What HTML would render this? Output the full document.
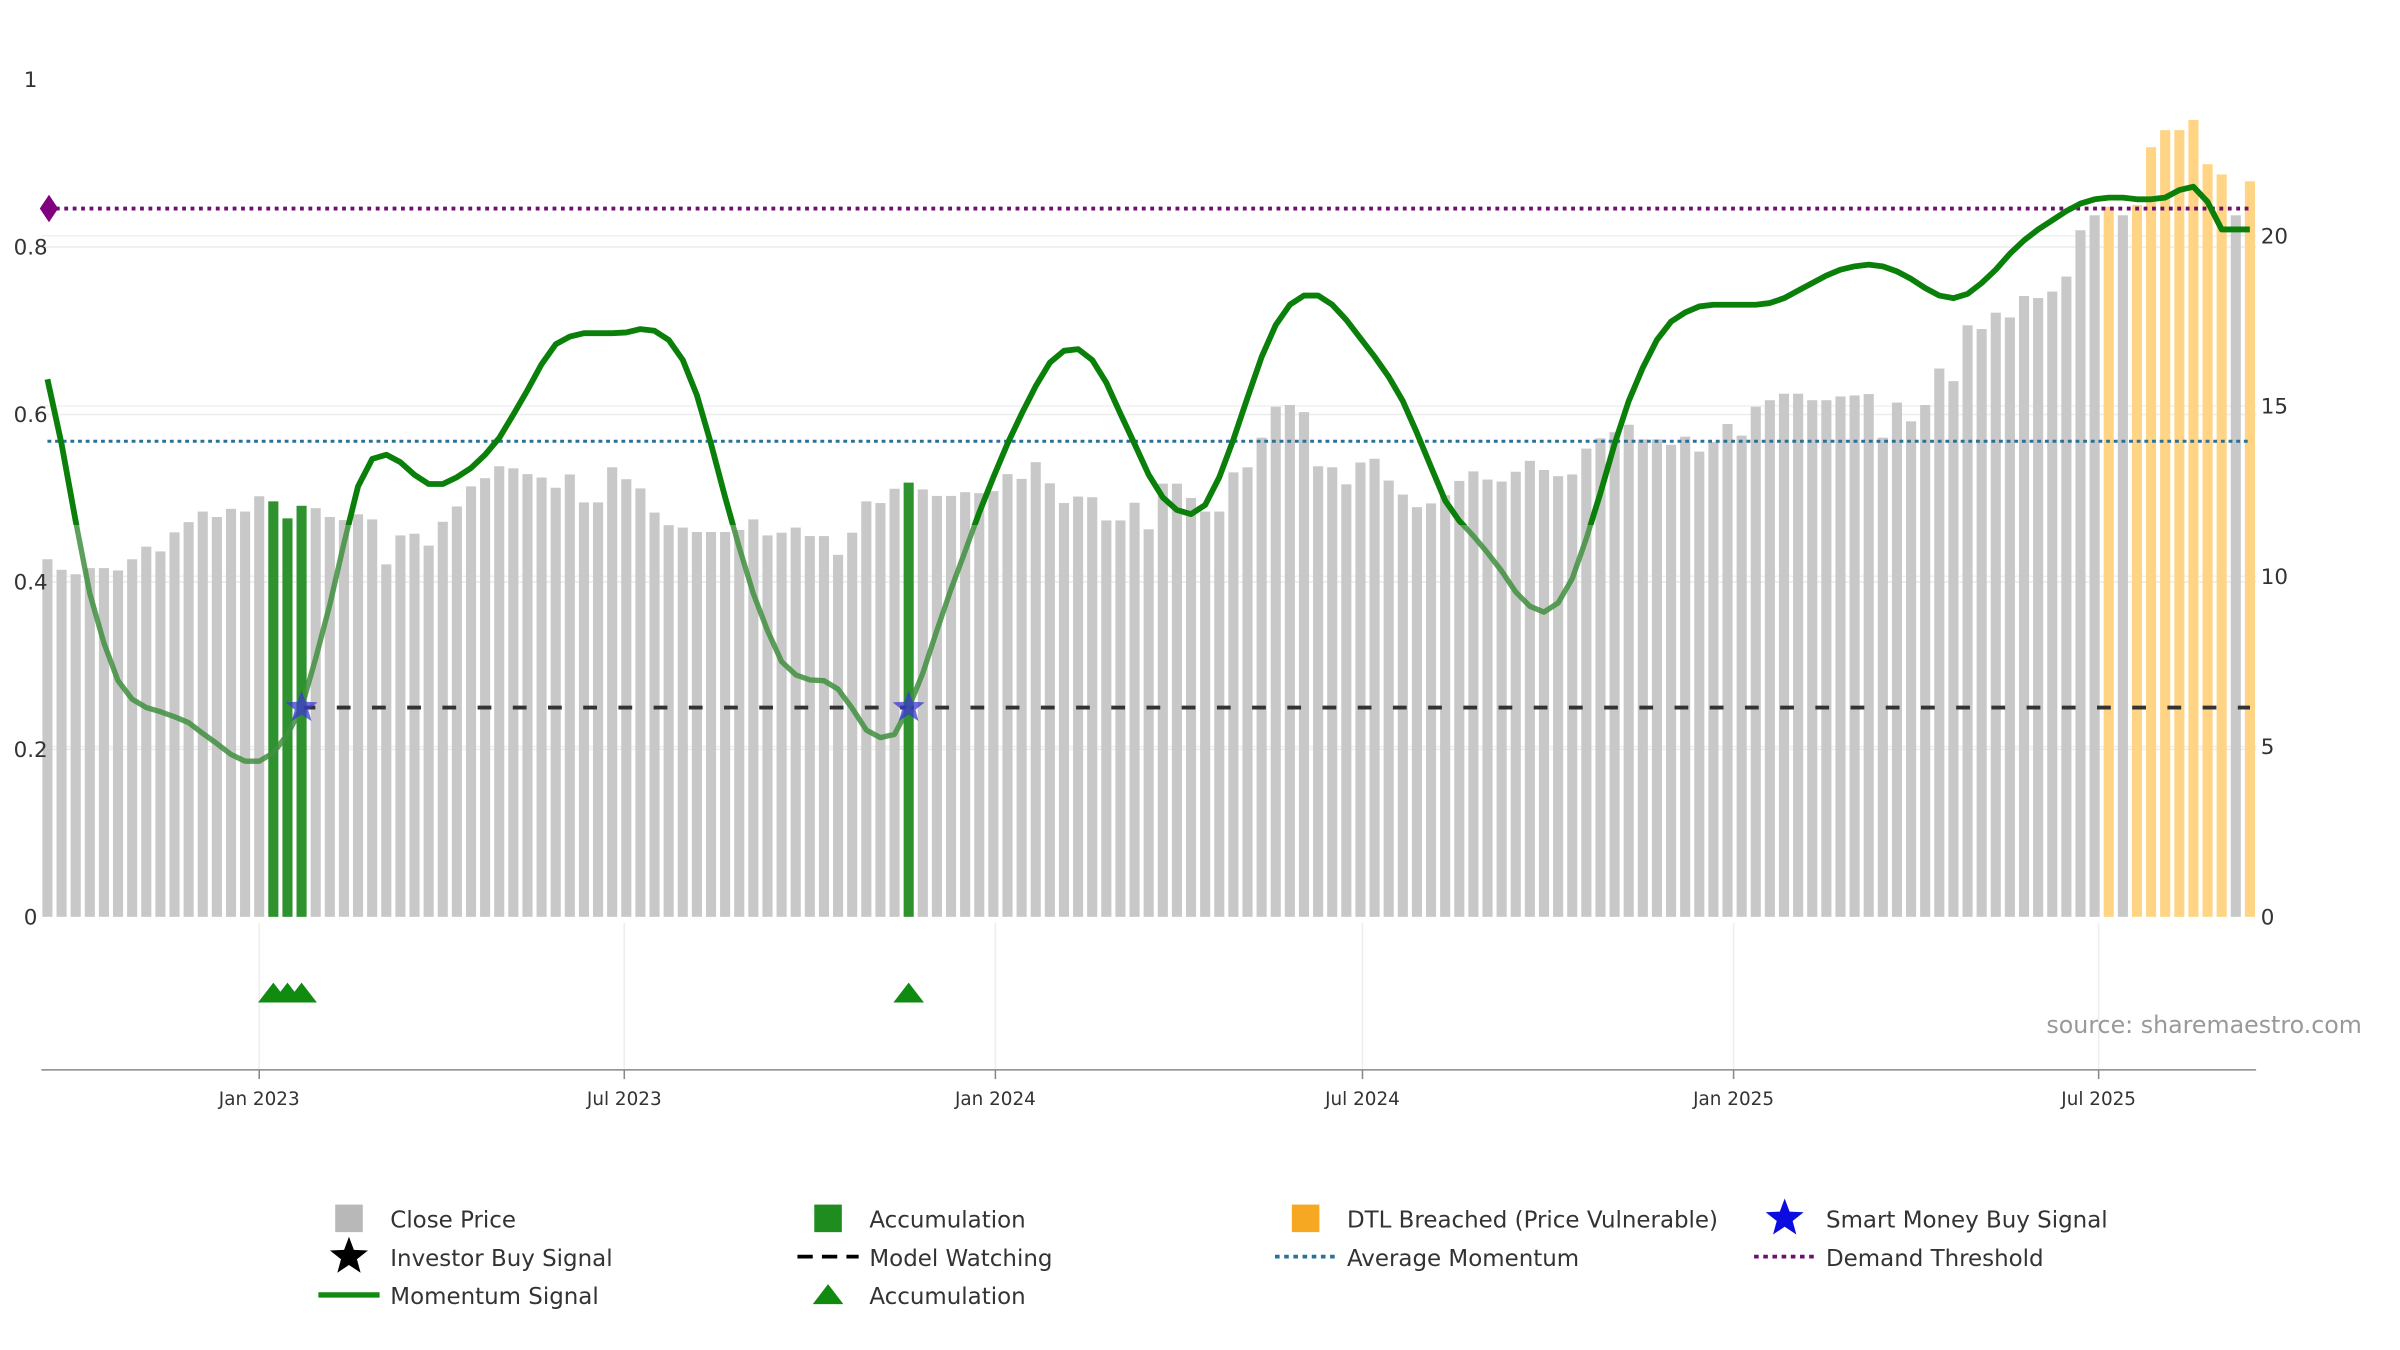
<!DOCTYPE html>
<html><head><meta charset="utf-8"><style>
html,body{margin:0;padding:0;background:#fff;}
svg{display:block;font-family:"DejaVu Sans","Liberation Sans",sans-serif;}
</style></head><body>
<svg id="chart" width="2400" height="1350" viewBox="0 0 1568 882" preserveAspectRatio="none" xmlns="http://www.w3.org/2000/svg">
<g id="grid"></g>
<g id="bars"></g>
<g id="lines"></g>
<g id="axes"></g>
<text x="1337" y="675" font-size="15.5" fill="#999">source: sharemaestro.com</text>
<g id="legend"></g>
</svg>
<script>
const prices = [10.5,10.19,10.06,10.24,10.24,10.17,10.5,10.87,10.73,11.29,11.59,11.9,11.74,11.98,11.9,12.35,
12.2,11.7,12.07,
12.0,11.74,11.65,11.82,11.67,10.35,11.2,11.25,10.9,11.6,12.05,12.64,12.88,13.23,13.17,13.0,12.9,12.6,12.99,12.17,12.17,13.2,12.85,12.58,11.87,11.5,11.43,11.3,11.3,11.3,11.36,11.67,11.2,11.28,11.43,11.18,11.18,
10.63,11.28,12.2,12.15,12.57,12.75,
12.55,12.36,12.36,12.47,12.44,12.5,13.0,12.86,13.35,12.73,12.15,12.34,12.32,11.64,11.64,12.16,11.38,12.72,12.72,12.3,11.9,11.9,
13.05,13.2,14.07,14.98,15.03,14.82,13.23,13.2,12.7,13.34,13.45,12.81,12.4,12.03,12.14,12.38,12.8,13.08,12.84,12.78,13.07,13.39,13.12,12.94,12.99,13.75,14.05,14.23,14.45,14.02,14.02,13.86,14.1,13.66,13.94,14.47,14.13,14.98,15.17,15.36,15.36,15.17,15.17,15.28,15.31,15.35,14.07,15.1,14.55,15.03,16.1,15.73,17.37,17.26,17.74,17.6,18.23,18.17,18.36,18.8,20.16,20.6,
20.85,20.6,20.9,22.6,23.1,23.1,23.4,22.1,21.8,20.6,21.6];
// bar state: g = grey, a = accumulation, d = DTL breached
const barState = prices.map(()=> 'g');
const accumIdx = [16,17,18,61];
const dtlIdx = [146,148,149,150,151,152,153,154,156];
const momentumPx = [248,290,340,388,420,445,457,462,465,468,472,479,486,493,497,497,492,480,462,430,395,355,318,300,297,302,310,316,316,312,306,297,286,271,255,238,225,220,218,218,218,217,215,216,222,235,258,290,325,358,388,412,432,441,444,445,450,463,477,482,480,462,440,412,385,360,335,312,290,270,252,237,229,228,235,250,270,290,310,325,333,336,330,312,287,260,233,212,199,193,193,199,209,221,233,246,262,283,305,327,340,350,361,373,387,396,400,394,378,352,322,290,262,240,222,210,204,200,199,199,199,199,198,195,190,185,180,176,174,173,174,177,182,188,193,195,192,185,176,166,157,150,144,138,133,130,129,129,130,130,129,124,122,132,150,150,150];
const momentum = momentumPx.map(y => +((599-y)/547).toFixed(3));
const avgMomentum = 0.568;
const demandThreshold = 0.846;
const watchLevel = 0.25;
const signalIdx = [18,61];
const leftTicks = [0,0.2,0.4,0.6,0.8,1];
const leftTickLabels = ['0','0.2','0.4','0.6','0.8','1'];
const rightTicks = [0,5,10,15,20];
const xTickLabels = ['Jan 2023','Jul 2023','Jan 2024','Jul 2024','Jan 2025','Jul 2025'];
const xTickDates = ['2023-01-01','2023-07-01','2024-01-01','2024-07-01','2025-01-01','2025-07-01'];
const startDate = '2022-09-18';

accumIdx.forEach(i=>barState[i]='a');
dtlIdx.forEach(i=>barState[i]='d');

const NS='http://www.w3.org/2000/svg';
const X0=31, STEP=9.224, Y0=599;
const xIdx = i => X0 + i*STEP;
const xDate = d => X0 + (new Date(d)-new Date(startDate))/(7*864e5)*STEP;
const yL = v => Y0 - v*547;
const yR = v => Y0 - v*22.25;
function mk(tag, attrs, parent){const e=document.createElementNS(NS,tag);for(const k in attrs)e.setAttribute(k,attrs[k]);parent.appendChild(e);return e;}
const grid=document.getElementById('grid'), bars=document.getElementById('bars'), lines=document.getElementById('lines'), axes=document.getElementById('axes'), legend=document.getElementById('legend');

leftTicks.forEach((v,k)=>{
  if(v>0&&v<1){const l=mk('line',{x1:27,x2:1474,y1:yL(v),y2:yL(v),stroke:'#ececec','stroke-width':1},grid);
  
  }
  const t=mk('text',{x:20,y:yL(v)+5,'font-size':14,fill:'#333','text-anchor':'middle'},axes);
  t.textContent=leftTickLabels[k];
  
  
});
rightTicks.forEach(v=>{
  if(v>0){const l=mk('line',{x1:27,x2:1474,y1:yR(v),y2:yR(v),stroke:'#f0f0f0','stroke-width':1},grid);
  
  }
  const t=mk('text',{x:1477,y:yR(v)+5,'font-size':14,fill:'#333'},axes);
  t.textContent=String(v);
  
  
});
xTickDates.forEach((d,k)=>{
  const x=xDate(d);
  const l=mk('line',{x1:x,x2:x,y1:603,y2:699,stroke:'#eeeeee','stroke-width':1},grid);
  
  
  const tk=mk('line',{x1:x,x2:x,y1:699,y2:705,stroke:'#888','stroke-width':1},axes);
  
  
  const t=mk('text',{x:x,y:722,'font-size':12,fill:'#333','text-anchor':'middle'},axes);
  t.textContent=xTickLabels[k];
  
  
});
const ax=mk('line',{x1:27,x2:1474,y1:699,y2:699,stroke:'#888','stroke-width':1},axes);



const colors={g:'#c8c8c8',a:'#2e922e',d:'#ffd485'};
prices.forEach((p,i)=>{
  const y=yR(p);
  const r=mk('rect',{x:xIdx(i)-3.3,y:y,width:6.6,height:Y0-y,fill:colors[barState[i]]},bars);
  
  
});

const avg=mk('line',{x1:31,x2:1470,y1:yL(avgMomentum),y2:yL(avgMomentum),stroke:'#2a7099','stroke-width':2,'stroke-dasharray':'2.5 2.5'},lines);


const dem=mk('line',{x1:31,x2:1470,y1:yL(demandThreshold),y2:yL(demandThreshold),stroke:'#6e0f6e','stroke-width':2.5,'stroke-dasharray':'2.5 3'},lines);


const dy=yL(demandThreshold);
const dia=mk('polygon',{points:`26,${dy} 32,${dy-9} 38,${dy} 32,${dy+9}`,fill:'#800080'},lines);


const ww=mk('line',{x1:xIdx(signalIdx[0]),x2:1470,y1:yL(watchLevel),y2:yL(watchLevel),stroke:'#333','stroke-width':2.5,'stroke-dasharray':'9 14'},lines);



const pts=momentum.map((v,i)=>`${xIdx(i).toFixed(1)},${yL(v).toFixed(1)}`).join(' ');
const defs=mk('defs',{},lines);
const c1=mk('clipPath',{id:'above'},defs); mk('rect',{x:0,y:0,width:1568,height:343},c1);
const c2=mk('clipPath',{id:'below'},defs); mk('rect',{x:0,y:343,width:1568,height:500},c2);
const ml=mk('polyline',{points:pts,fill:'none',stroke:'#0a800a','stroke-width':3.8,'stroke-linejoin':'round','clip-path':'url(#above)'},lines);


const ml2=mk('polyline',{points:pts,fill:'none',stroke:'#3f8f3f','stroke-width':3.5,'stroke-opacity':0.85,'stroke-linejoin':'round','clip-path':'url(#below)'},lines);



function star(cx,cy,r){let s='';for(let k=0;k<10;k++){const a=-Math.PI/2+k*Math.PI/5;const rr=k%2?r*0.42:r;s+=`${(cx+rr*Math.cos(a)).toFixed(1)},${(cy+rr*Math.sin(a)).toFixed(1)} `;}return s;}
signalIdx.forEach(i=>{
  const s=mk('polygon',{points:star(xIdx(i),yL(watchLevel),11),fill:'#3a3ad0','fill-opacity':0.75},lines);
  
  
});
accumIdx.forEach(i=>{
  const x=xIdx(i);
  const t=mk('polygon',{points:`${x-10},655 ${x},642 ${x+10},655`,fill:'#118a11'},lines);
  
  
});

const leg=[
 [228,796,'sq','#b8b8b8','Close Price'],[541,796,'sq','#1e8c1e','Accumulation'],[853,796,'sq','#f7a823','DTL Breached (Price Vulnerable)'],[1166,796,'star','#0c0ce0','Smart Money Buy Signal'],
 [228,821,'star','#000','Investor Buy Signal'],[541,821,'dash','#000','Model Watching'],[853,821,'dot','#2a7099','Average Momentum'],[1166,821,'dot','#6e0f6e','Demand Threshold'],
 [228,846,'line','#118a11','Momentum Signal'],[541,846,'tri','#118a11','Accumulation']];
leg.forEach(([x,y,kind,col,label])=>{
  const g=mk('g',{},legend);
  
  
  if(kind==='sq') mk('rect',{x:x-9,y:y-9,width:18,height:18,fill:col},g);
  else if(kind==='star') mk('polygon',{points:star(x,y,13),fill:col},g);
  else if(kind==='dash') mk('line',{x1:x-20,x2:x+20,y1:y,y2:y,stroke:col,'stroke-width':2.5,'stroke-dasharray':'10 6'},g);
  else if(kind==='dot') mk('line',{x1:x-20,x2:x+20,y1:y,y2:y,stroke:col,'stroke-width':2.5,'stroke-dasharray':'3 3'},g);
  else if(kind==='line') mk('line',{x1:x-20,x2:x+20,y1:y,y2:y,stroke:col,'stroke-width':3.5},g);
  else if(kind==='tri') mk('polygon',{points:`${x-10},${y+6} ${x},${y-7} ${x+10},${y+6}`,fill:col},g);
  const t=mk('text',{x:x+27,y:y+6,'font-size':15,fill:'#333'},g);
  t.textContent=label;
});
</script>
</body></html>
